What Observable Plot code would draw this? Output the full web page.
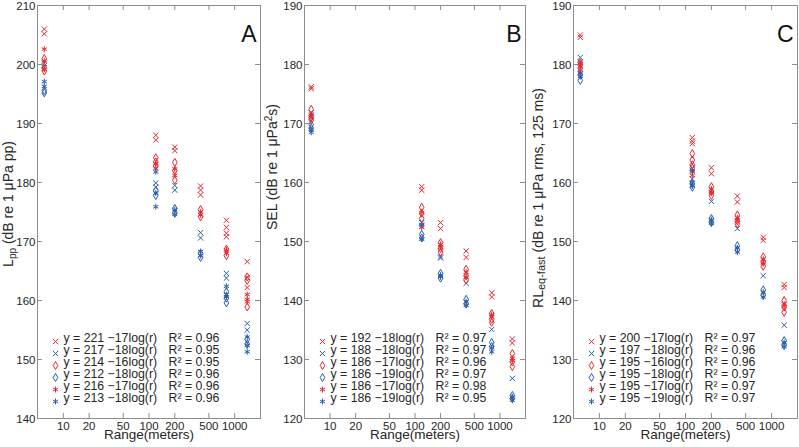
<!DOCTYPE html>
<html><head><meta charset="utf-8">
<script src="https://cdn.jsdelivr.net/npm/d3@7"></script>
<script src="https://cdn.jsdelivr.net/npm/@observablehq/plot@0.6"></script>
<style>
html,body{margin:0;padding:0;background:#fff;}
#wrap{display:flex;width:799px;height:447px;overflow:hidden;}
svg{display:block;}
</style></head><body><div id="wrap"></div>
<script>
// ---------- data ----------
const ranges = [6, 120, 200, 400, 800, 1400];
const xTicks = [10, 20, 50, 100, 200, 500, 1000];
const yTicksA = [140, 150, 160, 170, 180, 190, 200, 210];
const yTicksBC = [120, 130, 140, 150, 160, 170, 180, 190];

// Panel A: Lpp  (values per range)
const A_redX   = [[206.0,205.2],[188.0,187.2],[186.0,185.4],[179.4,178.7,177.9],[173.6,172.4,171.4,170.8],[166.6,163.9,162.2]];
const A_blueX  = [[200.2,199.8],[179.9,179.2],[179.5,178.7],[171.5,170.6],[164.6,163.8],[156.1,155.0]];
const A_redD   = [[201.0,199.5,198.9],[184.2,183.5,182.8],[183.4,182.0,180.4],[175.4,174.2],[168.7,167.6],[164.0,163.4,158.9]];
const A_blueD  = [[195.6,195.2],[178.6,177.8],[175.6,174.8],[168.0,167.3],[161.5,160.4,159.6],[153.4,152.6]];
const A_redA   = [[202.6,200.6,199.2],[183.2,182.4],[182.3,181.2],[175.0,174.5],[168.6,168.0],[161.0,160.2,159.8]];
const A_blueA  = [[197.1,196.3],[181.8,178.2,175.9],[175.4,174.6],[168.3,167.6],[162.4,161.0,160.6],[153.8,152.4,151.3]];
const A_eq = ["y = 221 \u221217log(r)","y = 217 \u221218log(r)","y = 214 \u221216log(r)","y = 212 \u221218log(r)","y = 216 \u221217log(r)","y = 213 \u221218log(r)"];
const A_r2 = ["0.96","0.95","0.95","0.96","0.96","0.96"];

// Panel B: SEL
const B_redX   = [[176.2,175.9],[159.3,158.7],[153.2,152.2],[148.4,147.3],[141.3,140.6],[133.5,132.8]];
const B_blueX  = [[171.8,171.2],[153.2,152.6],[147.4,147.2],[142.9],[135.1],[126.8]];
const B_redD   = [[172.4,171.0,170.6],[155.8,154.8,153.9],[149.8,148.8,148.2],[145.3,144.2,143.5],[137.8,136.8,136.3],[131.0,129.6,128.8]];
const B_blueD  = [[169.8,169.2],[151.2,150.6],[144.6,143.8],[140.2,139.4],[132.9,132.2],[123.9,123.4]];
const B_redA   = [[171.6,171.0],[154.9,152.4],[149.5,149.0],[144.8,144.0],[137.6,137.2],[130.2,129.8]];
const B_blueA  = [[169.0,168.5],[152.9,150.4],[144.3,144.0],[139.8,139.2],[132.0,131.3],[123.6,123.1]];
const B_eq = ["y = 192 \u221218log(r)","y = 188 \u221218log(r)","y = 186 \u221217log(r)","y = 186 \u221219log(r)","y = 186 \u221217log(r)","y = 186 \u221219log(r)"];
const B_r2 = ["0.97","0.97","0.96","0.97","0.98","0.95"];

// Panel C: RLeq-fast
const C_redX   = [[185.0,184.6],[167.6,167.0,166.6],[162.5,161.5],[157.7,156.7],[150.7,150.2],[142.7,142.2]];
const C_blueX  = [[181.2,180.4],[162.4,160.6],[156.8],[152.2],[144.2],[135.8]];
const C_redD   = [[180.3,179.4,178.8],[164.9,163.8,163.0,162.5],[159.3,158.4,157.8],[154.5,153.5,153.0],[147.4,146.5,145.8],[140.0,138.9,138.0]];
const C_blueD  = [[178.2,177.3],[159.8,159.2],[153.9,153.2],[149.3,148.6],[141.8,140.9],[133.2,132.4]];
const C_redA   = [[180.2,179.6],[161.8,161.2],[158.9,158.4],[154.0,153.6],[147.0,146.4],[139.4,139.0]];
const C_blueA  = [[178.6,178.0],[162.0,160.0,159.4],[153.7,153.1],[148.9,148.2],[141.4,140.6],[132.9,132.2]];
const C_eq = ["y = 200 \u221217log(r)","y = 197 \u221218log(r)","y = 195 \u221216log(r)","y = 195 \u221218log(r)","y = 195 \u221217log(r)","y = 195 \u221219log(r)"];
const C_r2 = ["0.97","0.96","0.96","0.97","0.97","0.97"];

// ---------- styles ----------
const RED = "#e5282d", BLUE = "#2a5da8", AX = "#8c8c8c", TXT = "#262626";
const FONT = "'Liberation Sans', Arial, Helvetica, sans-serif";
const seriesStyle = [
  {sym: "times", color: RED, r: 2.5},
  {sym: "times", color: BLUE, r: 2.5},
  {sym: "diamond", color: RED, r: 2.45},
  {sym: "diamond", color: BLUE, r: 2.45},
  {sym: "asterisk", color: RED, r: 2.8},
  {sym: "asterisk", color: BLUE, r: 2.8}
];

function makePanel(cfg) {
  const H = 447, mt = 5, mb = 29;
  const innerW = cfg.width - cfg.ml - cfg.mr, innerH = H - mt - mb;
  const marks = [
    Plot.frame({stroke: AX}),
    Plot.tickX(xTicks, {x: d => d, insetTop: innerH - 5, stroke: AX}),
    Plot.tickX(xTicks, {x: d => d, insetBottom: innerH - 5, stroke: AX}),
    Plot.tickY(cfg.yTicks, {y: d => d, insetRight: innerW - 5, stroke: AX}),
    Plot.tickY(cfg.yTicks, {y: d => d, insetLeft: innerW - 5, stroke: AX}),
    // tick labels
    Plot.text(xTicks, {x: d => d, frameAnchor: "bottom", lineAnchor: "top", dy: 3, text: d => String(d), fontSize: 11.5, fill: TXT}),
    Plot.text(cfg.yTicks, {y: d => d, frameAnchor: "left", textAnchor: "end", dx: -2, dy: 0.5, text: d => String(d), fontSize: 11.5, fill: TXT})
  ];
  cfg.series.forEach((vals, k) => {
    const rows = [];
    vals.forEach((arr, i) => arr.forEach(v => rows.push({r: ranges[i], v})));
    const st = seriesStyle[k];
    marks.push(Plot.dot(rows, {x: "r", y: "v", symbol: st.sym, stroke: st.color, fill: "none", r: st.r, strokeWidth: 1}));
  });
  // legend
  cfg.eq.forEach((eq, i) => {
    const dy = -77 + 12 * i;
    const st = seriesStyle[i];
    marks.push(Plot.dot([eq], {frameAnchor: "bottom-left", dx: 18, dy, symbol: st.sym, stroke: st.color, fill: "none", r: st.r, strokeWidth: 1}));
    marks.push(Plot.text([eq], {text: d => d, frameAnchor: "bottom-left", textAnchor: "start", dx: 26, dy, fontSize: 12.3, fill: TXT}));
    marks.push(Plot.text([cfg.r2[i]], {text: d => "R\u00b2 = " + d, frameAnchor: "bottom-left", textAnchor: "start", dx: 131, dy, fontSize: 12.3, fill: TXT}));
  });
  // panel letter
  marks.push(Plot.text([cfg.letter], {text: d => d, frameAnchor: "top-right", textAnchor: "end", dx: -4, dy: 20, fontSize: 23, fill: "#111"}));
  // x label
  marks.push(Plot.text(["Range(meters)"], {text: d => d, frameAnchor: "bottom", dy: 20, fontSize: 13.5, fill: TXT}));

  const svg = Plot.plot({
    width: cfg.width, height: H,
    marginLeft: cfg.ml, marginRight: cfg.mr, marginTop: mt, marginBottom: mb,
    x: {type: "log", domain: [5, 2000], axis: null},
    y: {domain: cfg.yDomain, axis: null},
    style: {fontFamily: FONT, fontSize: "12px", color: TXT, background: "white", overflow: "visible"},
    marks
  });
  // y label with sub/superscripts
  const t = d3.select(svg).append("text")
    .attr("transform", `translate(${cfg.lx},${cfg.ly}) rotate(-90)`)
    .attr("text-anchor", "middle").attr("dy", "0.35em")
    .attr("font-size", 14).attr("fill", TXT).attr("font-family", FONT);
  cfg.ylabel.forEach(p => {
    const ts = t.append("tspan").text(p.t);
    if (p.size) ts.attr("font-size", p.size);
    if (p.dy) ts.attr("dy", p.dy);
  });
  return svg;
}

const wrap = document.getElementById("wrap");
wrap.appendChild(makePanel({
  width: 266, ml: 37, mr: 6, yDomain: [140, 210], yTicks: yTicksA, letter: "A",
  series: [A_redX, A_blueX, A_redD, A_blueD, A_redA, A_blueA], eq: A_eq, r2: A_r2,
  lx: 8, ly: 204,
  ylabel: [{t: "L"}, {t: "pp", size: 10, dy: 3}, {t: " (dB re 1 \u03bcPa pp)", size: 14, dy: -3}]
}));
wrap.appendChild(makePanel({
  width: 266, ml: 38, mr: 7, yDomain: [120, 190], yTicks: yTicksBC, letter: "B",
  series: [B_redX, B_blueX, B_redD, B_blueD, B_redA, B_blueA], eq: B_eq, r2: B_r2,
  lx: 6, ly: 167,
  ylabel: [{t: "SEL (dB re 1 \u03bcPa"}, {t: "2", size: 10, dy: -5}, {t: "s)", size: 14, dy: 5}]
}));
wrap.appendChild(makePanel({
  width: 267, ml: 41, mr: 2, yDomain: [120, 190], yTicks: yTicksBC, letter: "C",
  series: [C_redX, C_blueX, C_redD, C_blueD, C_redA, C_blueA], eq: C_eq, r2: C_r2,
  lx: 6, ly: 198,
  ylabel: [{t: "RL"}, {t: "eq-fast", size: 11, dy: 2}, {t: " (dB re 1 \u03bcPa rms, 125 ms)", size: 14, dy: -2}]
}));
</script>
</body></html>
